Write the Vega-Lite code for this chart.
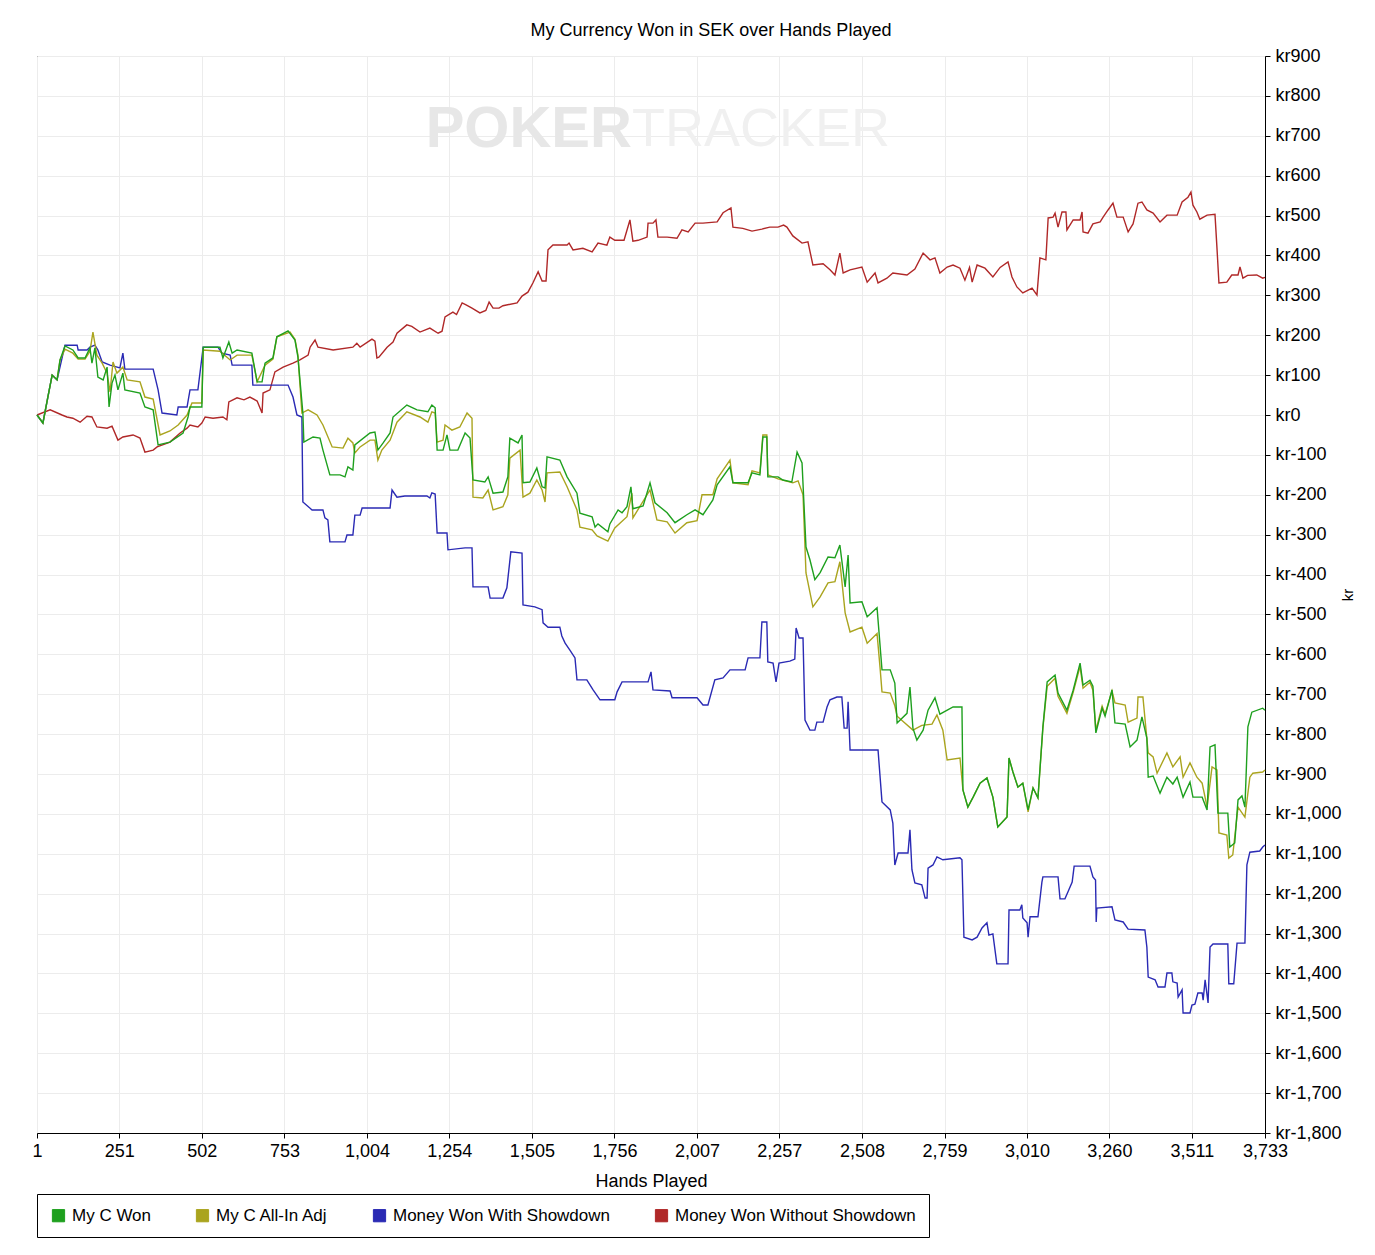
{
  "$schema": "https://vega.github.io/schema/vega-lite/v6.json",
  "width": 1228,
  "height": 1077,
  "autosize": {"type": "none"},
  "padding": {"left": 37, "top": 56, "right": 110, "bottom": 122},
  "background": "white",
  "title": {"text": "My Currency Won in SEK over Hands Played", "font": "Liberation Sans", "fontSize": 18, "fontWeight": "normal", "color": "black", "anchor": "middle", "offset": 7, "dx": 60},
  "config": {
    "view": {"stroke": "black", "strokeWidth": 1},
    "font": "Liberation Sans",
    "axis": {"labelFont": "Liberation Sans", "titleFont": "Liberation Sans", "labelFontSize": 18, "titleFontSize": 18, "titleFontWeight": "normal", "labelColor": "black", "titleColor": "black", "domainColor": "black", "tickColor": "black", "gridColor": "#ececec", "tickSize": 5, "labelOverlap": false, "labelFlush": false}
  },
  "encoding": {
    "x": {"field": "h", "type": "quantitative", "scale": {"domain": [1, 3733], "nice": false, "zero": false},
      "axis": {"title": "Hands Played", "values": [1, 251, 502, 753, 1004, 1254, 1505, 1756, 2007, 2257, 2508, 2759, 3010, 3260, 3511, 3733], "labelExpr": "format(datum.value, ',')", "labelPadding": 4, "titlePadding": 12, "grid": true, "labelFlush": false}},
    "y": {"field": "v", "type": "quantitative", "scale": {"domain": [-1800, 900], "nice": false, "zero": false},
      "axis": {"orient": "right", "title": "kr", "values": [-1800, -1700, -1600, -1500, -1400, -1300, -1200, -1100, -1000, -900, -800, -700, -600, -500, -400, -300, -200, -100, 0, 100, 200, 300, 400, 500, 600, 700, 800, 900],
        "labelExpr": "datum.value < 0 ? 'kr-' + format(-datum.value, ',') : 'kr' + format(datum.value, ',')", "labelPadding": 5, "titlePadding": 14, "titleAngle": 270, "titleFontSize": 15, "grid": true, "labelFlush": false}}
  },
  "layer": [
    {
      "data": {"values": [{"h": 1809, "v": 714, "t": "POKER"}]},
      "mark": {"type": "text", "align": "right", "baseline": "middle", "font": "Liberation Sans", "fontSize": 58, "fontWeight": "bold", "color": "#e7e7e7"},
      "encoding": {"text": {"field": "t"}}
    },
    {
      "data": {"values": [{"h": 1809, "v": 714, "t": "TRACKER"}]},
      "mark": {"type": "text", "align": "left", "baseline": "middle", "font": "Liberation Sans", "fontSize": 54, "color": "#f0f0f0"},
      "encoding": {"text": {"field": "t"}}
    },
    {
      "data": {"values": [{}]},
      "mark": {"type": "rule", "color": "black", "strokeWidth": 1.2},
      "encoding": {"x": {"datum": 1}, "x2": {"datum": 3733}, "y": {"datum": 0}}
    },
    {
      "data": {"values": [
        {"h":1,"v":0},{"h":41,"v":13},{"h":77,"v":0},{"h":92,"v":-5},{"h":110,"v":-8},{"h":132,"v":-18},{"h":153,"v":-3},{"h":168,"v":-5},{"h":183,"v":-30},{"h":214,"v":-33},{"h":229,"v":-28},{"h":247,"v":-63},{"h":262,"v":-55},{"h":293,"v":-50},{"h":314,"v":-58},{"h":329,"v":-93},{"h":354,"v":-88},{"h":366,"v":-80},{"h":405,"v":-68},{"h":436,"v":-45},{"h":457,"v":-33},{"h":466,"v":-25},{"h":490,"v":-30},{"h":502,"v":-20},{"h":512,"v":-5},{"h":536,"v":-8},{"h":566,"v":-5},{"h":578,"v":-12},{"h":584,"v":33},{"h":609,"v":43},{"h":630,"v":38},{"h":648,"v":45},{"h":670,"v":35},{"h":685,"v":5},{"h":688,"v":55},{"h":709,"v":63},{"h":724,"v":108},{"h":749,"v":120},{"h":779,"v":130},{"h":800,"v":138},{"h":825,"v":150},{"h":831,"v":170},{"h":846,"v":188},{"h":855,"v":170},{"h":901,"v":163},{"h":961,"v":170},{"h":973,"v":180},{"h":983,"v":170},{"h":1019,"v":190},{"h":1028,"v":185},{"h":1034,"v":143},{"h":1040,"v":145},{"h":1065,"v":170},{"h":1083,"v":183},{"h":1095,"v":205},{"h":1125,"v":226},{"h":1140,"v":222},{"h":1165,"v":208},{"h":1195,"v":218},{"h":1220,"v":205},{"h":1232,"v":210},{"h":1241,"v":246},{"h":1265,"v":258},{"h":1276,"v":252},{"h":1293,"v":281},{"h":1305,"v":276},{"h":1323,"v":268},{"h":1347,"v":256},{"h":1365,"v":262},{"h":1375,"v":283},{"h":1387,"v":268},{"h":1405,"v":268},{"h":1417,"v":274},{"h":1460,"v":281},{"h":1475,"v":298},{"h":1493,"v":308},{"h":1508,"v":331},{"h":1524,"v":359},{"h":1536,"v":336},{"h":1548,"v":336},{"h":1554,"v":414},{"h":1569,"v":426},{"h":1612,"v":426},{"h":1618,"v":431},{"h":1630,"v":414},{"h":1660,"v":418},{"h":1688,"v":409},{"h":1706,"v":431},{"h":1733,"v":426},{"h":1742,"v":446},{"h":1757,"v":438},{"h":1785,"v":438},{"h":1803,"v":489},{"h":1812,"v":436},{"h":1828,"v":438},{"h":1855,"v":446},{"h":1858,"v":481},{"h":1873,"v":481},{"h":1882,"v":489},{"h":1888,"v":446},{"h":1916,"v":446},{"h":1946,"v":443},{"h":1961,"v":464},{"h":1980,"v":459},{"h":2001,"v":481},{"h":2025,"v":481},{"h":2068,"v":484},{"h":2086,"v":507},{"h":2110,"v":519},{"h":2116,"v":471},{"h":2146,"v":468},{"h":2174,"v":461},{"h":2204,"v":466},{"h":2228,"v":471},{"h":2253,"v":471},{"h":2270,"v":476},{"h":2280,"v":471},{"h":2298,"v":449},{"h":2326,"v":431},{"h":2344,"v":434},{"h":2359,"v":376},{"h":2390,"v":379},{"h":2411,"v":364},{"h":2426,"v":351},{"h":2441,"v":406},{"h":2451,"v":356},{"h":2472,"v":364},{"h":2508,"v":371},{"h":2524,"v":333},{"h":2548,"v":356},{"h":2557,"v":331},{"h":2584,"v":343},{"h":2602,"v":356},{"h":2645,"v":351},{"h":2669,"v":366},{"h":2694,"v":406},{"h":2715,"v":389},{"h":2730,"v":394},{"h":2745,"v":356},{"h":2767,"v":371},{"h":2785,"v":376},{"h":2806,"v":368},{"h":2821,"v":338},{"h":2835,"v":370},{"h":2843,"v":333},{"h":2858,"v":376},{"h":2882,"v":368},{"h":2906,"v":346},{"h":2928,"v":370},{"h":2952,"v":384},{"h":2964,"v":346},{"h":2979,"v":321},{"h":2997,"v":306},{"h":3025,"v":318},{"h":3040,"v":301},{"h":3049,"v":394},{"h":3067,"v":389},{"h":3074,"v":494},{"h":3089,"v":496},{"h":3095,"v":506},{"h":3104,"v":471},{"h":3116,"v":509},{"h":3128,"v":509},{"h":3131,"v":464},{"h":3150,"v":489},{"h":3171,"v":489},{"h":3177,"v":509},{"h":3180,"v":459},{"h":3195,"v":456},{"h":3210,"v":479},{"h":3232,"v":484},{"h":3241,"v":496},{"h":3256,"v":514},{"h":3271,"v":531},{"h":3283,"v":496},{"h":3302,"v":496},{"h":3317,"v":459},{"h":3332,"v":479},{"h":3347,"v":531},{"h":3359,"v":534},{"h":3374,"v":514},{"h":3393,"v":506},{"h":3414,"v":484},{"h":3435,"v":501},{"h":3466,"v":501},{"h":3481,"v":534},{"h":3499,"v":546},{"h":3508,"v":559},{"h":3514,"v":526},{"h":3526,"v":509},{"h":3535,"v":491},{"h":3557,"v":501},{"h":3581,"v":503},{"h":3587,"v":419},{"h":3593,"v":331},{"h":3617,"v":333},{"h":3632,"v":351},{"h":3651,"v":351},{"h":3657,"v":371},{"h":3666,"v":343},{"h":3680,"v":350},{"h":3708,"v":351},{"h":3726,"v":343},{"h":3733,"v":345}
      ]},
      "mark": {"type": "line", "strokeWidth": 1.4},
      "encoding": {"color": {"datum": "Money Won Without Showdown", "type": "nominal"}}
    },
    {
      "data": {"values": [
        {"h":1,"v":0},{"h":19,"v":-20},{"h":34,"v":45},{"h":47,"v":100},{"h":62,"v":88},{"h":86,"v":175},{"h":123,"v":175},{"h":126,"v":163},{"h":153,"v":163},{"h":162,"v":170},{"h":177,"v":175},{"h":186,"v":163},{"h":199,"v":133},{"h":223,"v":125},{"h":253,"v":118},{"h":262,"v":155},{"h":268,"v":115},{"h":354,"v":115},{"h":369,"v":63},{"h":381,"v":5},{"h":426,"v":0},{"h":430,"v":20},{"h":457,"v":20},{"h":466,"v":63},{"h":490,"v":63},{"h":506,"v":170},{"h":551,"v":170},{"h":563,"v":155},{"h":588,"v":150},{"h":594,"v":125},{"h":654,"v":125},{"h":657,"v":75},{"h":764,"v":75},{"h":779,"v":45},{"h":791,"v":0},{"h":806,"v":-5},{"h":809,"v":-218},{"h":837,"v":-238},{"h":870,"v":-238},{"h":876,"v":-258},{"h":885,"v":-263},{"h":891,"v":-318},{"h":937,"v":-318},{"h":943,"v":-301},{"h":961,"v":-301},{"h":967,"v":-251},{"h":983,"v":-251},{"h":989,"v":-233},{"h":1074,"v":-233},{"h":1080,"v":-188},{"h":1095,"v":-206},{"h":1119,"v":-203},{"h":1186,"v":-203},{"h":1195,"v":-208},{"h":1201,"v":-195},{"h":1211,"v":-198},{"h":1217,"v":-296},{"h":1247,"v":-296},{"h":1250,"v":-338},{"h":1302,"v":-333},{"h":1323,"v":-333},{"h":1326,"v":-431},{"h":1372,"v":-431},{"h":1378,"v":-459},{"h":1417,"v":-459},{"h":1429,"v":-433},{"h":1441,"v":-343},{"h":1475,"v":-346},{"h":1478,"v":-476},{"h":1514,"v":-481},{"h":1536,"v":-488},{"h":1539,"v":-521},{"h":1554,"v":-532},{"h":1590,"v":-532},{"h":1596,"v":-554},{"h":1606,"v":-572},{"h":1621,"v":-590},{"h":1636,"v":-609},{"h":1642,"v":-664},{"h":1672,"v":-664},{"h":1691,"v":-689},{"h":1712,"v":-714},{"h":1757,"v":-714},{"h":1764,"v":-694},{"h":1779,"v":-669},{"h":1858,"v":-669},{"h":1867,"v":-644},{"h":1873,"v":-689},{"h":1925,"v":-692},{"h":1931,"v":-709},{"h":2007,"v":-709},{"h":2025,"v":-727},{"h":2040,"v":-727},{"h":2061,"v":-664},{"h":2086,"v":-659},{"h":2107,"v":-639},{"h":2153,"v":-639},{"h":2162,"v":-609},{"h":2198,"v":-609},{"h":2204,"v":-519},{"h":2219,"v":-519},{"h":2222,"v":-619},{"h":2238,"v":-622},{"h":2247,"v":-669},{"h":2256,"v":-622},{"h":2289,"v":-617},{"h":2304,"v":-612},{"h":2308,"v":-534},{"h":2317,"v":-559},{"h":2329,"v":-559},{"h":2335,"v":-765},{"h":2350,"v":-790},{"h":2365,"v":-790},{"h":2371,"v":-770},{"h":2390,"v":-770},{"h":2402,"v":-732},{"h":2411,"v":-714},{"h":2432,"v":-707},{"h":2447,"v":-707},{"h":2454,"v":-785},{"h":2463,"v":-785},{"h":2466,"v":-719},{"h":2472,"v":-840},{"h":2557,"v":-840},{"h":2569,"v":-970},{"h":2594,"v":-990},{"h":2602,"v":-1023},{"h":2608,"v":-1128},{"h":2618,"v":-1098},{"h":2648,"v":-1098},{"h":2654,"v":-1040},{"h":2660,"v":-1140},{"h":2669,"v":-1173},{"h":2690,"v":-1178},{"h":2700,"v":-1211},{"h":2706,"v":-1211},{"h":2709,"v":-1136},{"h":2724,"v":-1128},{"h":2736,"v":-1108},{"h":2754,"v":-1115},{"h":2806,"v":-1110},{"h":2812,"v":-1115},{"h":2818,"v":-1309},{"h":2843,"v":-1316},{"h":2858,"v":-1309},{"h":2873,"v":-1286},{"h":2888,"v":-1273},{"h":2894,"v":-1304},{"h":2906,"v":-1301},{"h":2918,"v":-1376},{"h":2952,"v":-1376},{"h":2955,"v":-1241},{"h":2988,"v":-1241},{"h":2994,"v":-1228},{"h":2997,"v":-1261},{"h":3010,"v":-1273},{"h":3013,"v":-1309},{"h":3019,"v":-1258},{"h":3043,"v":-1258},{"h":3055,"v":-1171},{"h":3058,"v":-1158},{"h":3104,"v":-1158},{"h":3110,"v":-1213},{"h":3125,"v":-1213},{"h":3134,"v":-1196},{"h":3147,"v":-1171},{"h":3153,"v":-1131},{"h":3201,"v":-1131},{"h":3210,"v":-1158},{"h":3218,"v":-1166},{"h":3220,"v":-1271},{"h":3222,"v":-1236},{"h":3268,"v":-1233},{"h":3277,"v":-1266},{"h":3302,"v":-1271},{"h":3317,"v":-1289},{"h":3368,"v":-1291},{"h":3374,"v":-1334},{"h":3378,"v":-1409},{"h":3399,"v":-1416},{"h":3408,"v":-1434},{"h":3429,"v":-1434},{"h":3435,"v":-1399},{"h":3450,"v":-1399},{"h":3453,"v":-1421},{"h":3466,"v":-1424},{"h":3469,"v":-1459},{"h":3481,"v":-1441},{"h":3484,"v":-1499},{"h":3505,"v":-1499},{"h":3511,"v":-1479},{"h":3520,"v":-1477},{"h":3529,"v":-1449},{"h":3542,"v":-1449},{"h":3545,"v":-1467},{"h":3551,"v":-1416},{"h":3560,"v":-1474},{"h":3566,"v":-1334},{"h":3575,"v":-1326},{"h":3620,"v":-1326},{"h":3623,"v":-1426},{"h":3638,"v":-1426},{"h":3648,"v":-1324},{"h":3672,"v":-1324},{"h":3678,"v":-1128},{"h":3687,"v":-1096},{"h":3717,"v":-1093},{"h":3726,"v":-1083},{"h":3733,"v":-1078}
      ]},
      "mark": {"type": "line", "strokeWidth": 1.4},
      "encoding": {"color": {"datum": "Money Won With Showdown", "type": "nominal"}}
    },
    {
      "data": {"values": [
        {"h":1,"v":0},{"h":19,"v":-20},{"h":34,"v":45},{"h":47,"v":100},{"h":62,"v":88},{"h":71,"v":138},{"h":86,"v":165},{"h":110,"v":155},{"h":126,"v":140},{"h":147,"v":140},{"h":162,"v":160},{"h":171,"v":208},{"h":183,"v":150},{"h":199,"v":130},{"h":214,"v":105},{"h":223,"v":58},{"h":232,"v":133},{"h":244,"v":105},{"h":262,"v":120},{"h":275,"v":88},{"h":314,"v":83},{"h":329,"v":45},{"h":354,"v":40},{"h":375,"v":-50},{"h":405,"v":-40},{"h":430,"v":-25},{"h":457,"v":0},{"h":472,"v":30},{"h":502,"v":30},{"h":506,"v":163},{"h":557,"v":160},{"h":588,"v":138},{"h":609,"v":150},{"h":654,"v":150},{"h":670,"v":83},{"h":694,"v":125},{"h":718,"v":140},{"h":730,"v":196},{"h":770,"v":208},{"h":785,"v":190},{"h":794,"v":150},{"h":806,"v":5},{"h":825,"v":13},{"h":852,"v":0},{"h":870,"v":-25},{"h":898,"v":-80},{"h":931,"v":-83},{"h":946,"v":-58},{"h":961,"v":-70},{"h":967,"v":-95},{"h":983,"v":-80},{"h":1013,"v":-63},{"h":1028,"v":-63},{"h":1037,"v":-113},{"h":1049,"v":-88},{"h":1074,"v":-63},{"h":1095,"v":-18},{"h":1125,"v":8},{"h":1165,"v":-5},{"h":1189,"v":-18},{"h":1201,"v":8},{"h":1211,"v":5},{"h":1217,"v":-68},{"h":1235,"v":-63},{"h":1241,"v":-25},{"h":1262,"v":-38},{"h":1286,"v":-30},{"h":1308,"v":5},{"h":1323,"v":-8},{"h":1326,"v":-206},{"h":1356,"v":-208},{"h":1372,"v":-188},{"h":1387,"v":-238},{"h":1417,"v":-230},{"h":1432,"v":-200},{"h":1438,"v":-108},{"h":1469,"v":-88},{"h":1478,"v":-206},{"h":1499,"v":-196},{"h":1520,"v":-163},{"h":1536,"v":-188},{"h":1545,"v":-218},{"h":1551,"v":-145},{"h":1590,"v":-143},{"h":1612,"v":-180},{"h":1642,"v":-238},{"h":1651,"v":-281},{"h":1688,"v":-288},{"h":1703,"v":-303},{"h":1736,"v":-316},{"h":1757,"v":-283},{"h":1794,"v":-255},{"h":1809,"v":-196},{"h":1812,"v":-258},{"h":1864,"v":-188},{"h":1885,"v":-263},{"h":1916,"v":-268},{"h":1940,"v":-296},{"h":1976,"v":-270},{"h":2007,"v":-265},{"h":2022,"v":-200},{"h":2055,"v":-200},{"h":2068,"v":-160},{"h":2107,"v":-113},{"h":2116,"v":-170},{"h":2162,"v":-175},{"h":2174,"v":-140},{"h":2198,"v":-145},{"h":2207,"v":-50},{"h":2219,"v":-50},{"h":2222,"v":-150},{"h":2253,"v":-160},{"h":2298,"v":-170},{"h":2314,"v":-165},{"h":2329,"v":-200},{"h":2338,"v":-396},{"h":2359,"v":-481},{"h":2381,"v":-456},{"h":2405,"v":-421},{"h":2426,"v":-418},{"h":2441,"v":-368},{"h":2457,"v":-496},{"h":2472,"v":-544},{"h":2508,"v":-532},{"h":2524,"v":-572},{"h":2554,"v":-548},{"h":2563,"v":-632},{"h":2569,"v":-694},{"h":2594,"v":-697},{"h":2608,"v":-729},{"h":2615,"v":-755},{"h":2663,"v":-790},{"h":2690,"v":-778},{"h":2721,"v":-775},{"h":2736,"v":-752},{"h":2754,"v":-790},{"h":2767,"v":-865},{"h":2806,"v":-860},{"h":2815,"v":-940},{"h":2830,"v":-983},{"h":2846,"v":-958},{"h":2867,"v":-923},{"h":2888,"v":-910},{"h":2906,"v":-958},{"h":2921,"v":-1033},{"h":2949,"v":-1008},{"h":2955,"v":-860},{"h":2967,"v":-895},{"h":2982,"v":-933},{"h":2997,"v":-923},{"h":3013,"v":-995},{"h":3028,"v":-935},{"h":3043,"v":-960},{"h":3058,"v":-785},{"h":3071,"v":-680},{"h":3095,"v":-660},{"h":3104,"v":-705},{"h":3131,"v":-748},{"h":3150,"v":-695},{"h":3171,"v":-630},{"h":3180,"v":-685},{"h":3201,"v":-670},{"h":3210,"v":-690},{"h":3219,"v":-790},{"h":3238,"v":-730},{"h":3247,"v":-750},{"h":3268,"v":-692},{"h":3277,"v":-722},{"h":3308,"v":-727},{"h":3317,"v":-770},{"h":3344,"v":-760},{"h":3347,"v":-707},{"h":3362,"v":-707},{"h":3378,"v":-847},{"h":3393,"v":-857},{"h":3405,"v":-898},{"h":3435,"v":-847},{"h":3453,"v":-882},{"h":3475,"v":-857},{"h":3484,"v":-908},{"h":3505,"v":-872},{"h":3526,"v":-908},{"h":3542,"v":-923},{"h":3557,"v":-983},{"h":3572,"v":-882},{"h":3587,"v":-890},{"h":3593,"v":-1048},{"h":3617,"v":-1053},{"h":3623,"v":-1111},{"h":3635,"v":-1103},{"h":3651,"v":-983},{"h":3672,"v":-1008},{"h":3687,"v":-908},{"h":3696,"v":-898},{"h":3726,"v":-895},{"h":3733,"v":-890}
      ]},
      "mark": {"type": "line", "strokeWidth": 1.4},
      "encoding": {"color": {"datum": "My C All-In Adj", "type": "nominal"}}
    },
    {
      "data": {"values": [
        {"h":1,"v":0},{"h":19,"v":-20},{"h":34,"v":45},{"h":47,"v":100},{"h":62,"v":88},{"h":71,"v":138},{"h":86,"v":173},{"h":110,"v":163},{"h":126,"v":143},{"h":147,"v":143},{"h":162,"v":168},{"h":168,"v":130},{"h":177,"v":168},{"h":186,"v":95},{"h":202,"v":88},{"h":214,"v":120},{"h":220,"v":20},{"h":229,"v":80},{"h":238,"v":100},{"h":247,"v":63},{"h":262,"v":105},{"h":268,"v":63},{"h":314,"v":55},{"h":329,"v":20},{"h":354,"v":13},{"h":369,"v":-75},{"h":405,"v":-68},{"h":445,"v":-45},{"h":460,"v":-5},{"h":466,"v":20},{"h":502,"v":20},{"h":506,"v":170},{"h":557,"v":170},{"h":566,"v":143},{"h":584,"v":183},{"h":594,"v":155},{"h":609,"v":163},{"h":654,"v":155},{"h":670,"v":83},{"h":685,"v":83},{"h":694,"v":130},{"h":718,"v":143},{"h":730,"v":196},{"h":764,"v":211},{"h":785,"v":188},{"h":794,"v":145},{"h":809,"v":5},{"h":812,"v":-68},{"h":840,"v":-55},{"h":861,"v":-58},{"h":870,"v":-88},{"h":891,"v":-150},{"h":922,"v":-150},{"h":937,"v":-155},{"h":946,"v":-130},{"h":961,"v":-138},{"h":967,"v":-75},{"h":1013,"v":-45},{"h":1028,"v":-43},{"h":1037,"v":-88},{"h":1053,"v":-70},{"h":1074,"v":-45},{"h":1083,"v":-5},{"h":1125,"v":25},{"h":1156,"v":13},{"h":1189,"v":8},{"h":1201,"v":25},{"h":1211,"v":18},{"h":1217,"v":-88},{"h":1235,"v":-88},{"h":1247,"v":-50},{"h":1256,"v":-88},{"h":1280,"v":-88},{"h":1302,"v":-45},{"h":1317,"v":-58},{"h":1326,"v":-163},{"h":1362,"v":-168},{"h":1372,"v":-155},{"h":1387,"v":-196},{"h":1417,"v":-193},{"h":1432,"v":-155},{"h":1438,"v":-58},{"h":1463,"v":-70},{"h":1475,"v":-50},{"h":1478,"v":-170},{"h":1499,"v":-168},{"h":1520,"v":-133},{"h":1536,"v":-180},{"h":1545,"v":-183},{"h":1551,"v":-105},{"h":1590,"v":-113},{"h":1612,"v":-155},{"h":1642,"v":-196},{"h":1651,"v":-246},{"h":1688,"v":-255},{"h":1697,"v":-281},{"h":1706,"v":-273},{"h":1736,"v":-293},{"h":1742,"v":-273},{"h":1767,"v":-238},{"h":1779,"v":-245},{"h":1794,"v":-230},{"h":1806,"v":-180},{"h":1812,"v":-235},{"h":1843,"v":-228},{"h":1864,"v":-170},{"h":1879,"v":-220},{"h":1916,"v":-245},{"h":1940,"v":-270},{"h":1976,"v":-250},{"h":2001,"v":-238},{"h":2025,"v":-250},{"h":2055,"v":-213},{"h":2068,"v":-175},{"h":2107,"v":-130},{"h":2116,"v":-170},{"h":2162,"v":-170},{"h":2174,"v":-145},{"h":2198,"v":-150},{"h":2207,"v":-55},{"h":2219,"v":-55},{"h":2222,"v":-155},{"h":2253,"v":-155},{"h":2268,"v":-163},{"h":2295,"v":-168},{"h":2311,"v":-93},{"h":2326,"v":-120},{"h":2338,"v":-331},{"h":2350,"v":-363},{"h":2365,"v":-413},{"h":2381,"v":-395},{"h":2405,"v":-356},{"h":2426,"v":-358},{"h":2441,"v":-326},{"h":2457,"v":-431},{"h":2466,"v":-351},{"h":2472,"v":-471},{"h":2508,"v":-468},{"h":2524,"v":-506},{"h":2554,"v":-483},{"h":2569,"v":-639},{"h":2594,"v":-639},{"h":2608,"v":-672},{"h":2615,"v":-772},{"h":2645,"v":-748},{"h":2654,"v":-682},{"h":2663,"v":-785},{"h":2675,"v":-815},{"h":2694,"v":-790},{"h":2709,"v":-740},{"h":2730,"v":-709},{"h":2745,"v":-750},{"h":2785,"v":-732},{"h":2812,"v":-732},{"h":2815,"v":-940},{"h":2830,"v":-983},{"h":2846,"v":-958},{"h":2867,"v":-923},{"h":2888,"v":-910},{"h":2906,"v":-958},{"h":2921,"v":-1033},{"h":2949,"v":-1008},{"h":2955,"v":-860},{"h":2967,"v":-895},{"h":2982,"v":-933},{"h":2997,"v":-923},{"h":3013,"v":-990},{"h":3028,"v":-935},{"h":3043,"v":-960},{"h":3058,"v":-782},{"h":3071,"v":-669},{"h":3095,"v":-652},{"h":3104,"v":-697},{"h":3131,"v":-740},{"h":3150,"v":-690},{"h":3171,"v":-622},{"h":3180,"v":-677},{"h":3201,"v":-665},{"h":3210,"v":-680},{"h":3219,"v":-797},{"h":3238,"v":-735},{"h":3247,"v":-755},{"h":3268,"v":-689},{"h":3277,"v":-772},{"h":3308,"v":-775},{"h":3323,"v":-832},{"h":3344,"v":-815},{"h":3359,"v":-757},{"h":3374,"v":-810},{"h":3378,"v":-908},{"h":3393,"v":-905},{"h":3414,"v":-948},{"h":3435,"v":-908},{"h":3453,"v":-925},{"h":3466,"v":-908},{"h":3484,"v":-958},{"h":3505,"v":-920},{"h":3514,"v":-958},{"h":3542,"v":-958},{"h":3557,"v":-990},{"h":3566,"v":-832},{"h":3581,"v":-827},{"h":3590,"v":-998},{"h":3620,"v":-998},{"h":3626,"v":-1083},{"h":3641,"v":-1073},{"h":3651,"v":-965},{"h":3663,"v":-955},{"h":3672,"v":-983},{"h":3681,"v":-782},{"h":3693,"v":-745},{"h":3726,"v":-735},{"h":3733,"v":-740}
      ]},
      "mark": {"type": "line", "strokeWidth": 1.4},
      "encoding": {"color": {"datum": "My C Won", "type": "nominal",
        "scale": {"domain": ["My C Won", "My C All-In Adj", "Money Won With Showdown", "Money Won Without Showdown"], "range": ["#1ea01e", "#aaa41e", "#2a2ab4", "#b02828"]},
        "legend": {"title": null, "orient": "none", "legendX": 0, "legendY": 1138, "direction": "horizontal", "columns": 4, "columnPadding": 42, "symbolType": "square", "symbolSize": 150, "symbolStrokeColor": "black", "symbolStrokeWidth": 1, "labelFont": "Liberation Sans", "labelFontSize": 17, "labelColor": "black", "labelOffset": 5, "labelLimit": 0, "strokeColor": "black", "padding": 13,
          "encode": {"symbols": {"update": {"fill": {"scale": "color", "field": "value"}, "fillOpacity": {"value": 1}, "stroke": {"value": "black"}, "strokeWidth": {"value": 1}}}}}}}
    }
  ]
}
